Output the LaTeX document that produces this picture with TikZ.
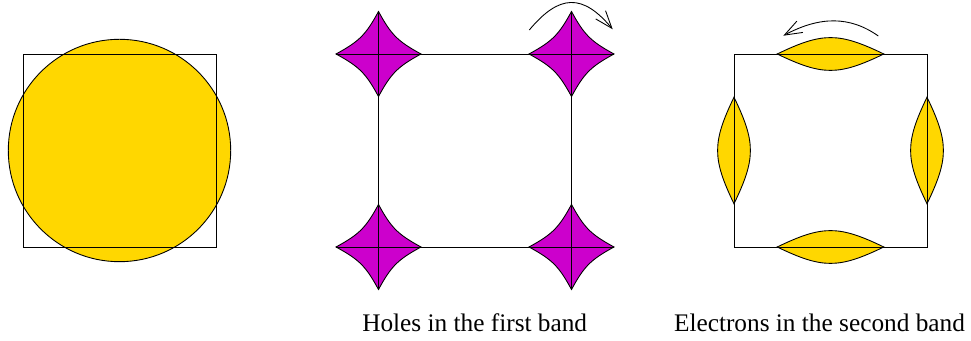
\documentclass[tikz,border=0pt]{standalone}
\usepackage{fontspec}
\setmainfont{Liberation Serif}
\usetikzlibrary{arrows.meta}
\definecolor{fermigold}{RGB}{255,215,0}
\definecolor{holemagenta}{RGB}{204,0,204}

\begin{document}
\begin{tikzpicture}[x=0.02cm, y=0.02cm, line width=0.5pt,
    pocket/.style={draw, fill=holemagenta},
    lens/.style={draw, fill=fermigold},
    flow/.style={-{Straight Barb[length=10pt, width=7.3pt]}},
    caption/.style={anchor=base, font=\fontsize{14.4}{17}\selectfont}]
  \useasboundingbox (0,0) rectangle (971,341);
  % Fermi circle in the zone
  \draw[fill=fermigold] (119.5,190.5) circle (111.2);
  \draw (23,94) rectangle (216,287);
  % First band: hole pockets at the corners
  \draw (378.5,94) rectangle (571.5,287);
  \foreach \cx/\cy in {378.5/94, 571.5/94, 378.5/287, 571.5/287} {
    \begin{scope}[shift={(\cx,\cy)}, scale=42.5]
      \draw[pocket] (0,1) .. controls (0.3,0.45) and (0.45,0.3) .. (1,0)
        .. controls (0.45,-0.3) and (0.3,-0.45) .. (0,-1)
        .. controls (-0.3,-0.45) and (-0.45,-0.3) .. (-1,0)
        .. controls (-0.45,0.3) and (-0.3,0.45) .. (0,1) -- cycle;
      \draw (-1,0) -- (1,0) (0,-1) -- (0,1);
    \end{scope}
  }
  \coordinate (holeStart) at (529.3,311);
  \coordinate (holeEnd) at (612.7,311.7);
  \draw[flow] (holeStart) .. controls +(30,36) and +(-30,36) .. (holeEnd);
  % Second band: electron lenses at the edges
  \foreach \cx/\cy/\r in {830.5/287/0, 830.5/94/0, 734/190.5/90, 927/190.5/90} {
    \begin{scope}[shift={(\cx,\cy)}, rotate=\r, scale=53.3]
      \draw[lens] (-1,0) .. controls (-0.15,0.41) and (0.15,0.41) .. (1,0)
        .. controls (0.15,-0.41) and (-0.15,-0.41) .. (-1,0) -- cycle;
    \end{scope}
  }
  \draw (734,94) rectangle (927,287);
  \coordinate (elecStart) at (878.3,305);
  \coordinate (elecEnd) at (783.3,305.3);
  \draw[flow] (elecStart) .. controls (850,325) and (820,325) .. (elecEnd);
  % Captions
  \node[caption] (holeText) at (474.7,9.3) {Holes in the first band};
  \node[caption] (elecText) at (819.5,9.3) {Electrons in the second band};
\end{tikzpicture}
\end{document}
